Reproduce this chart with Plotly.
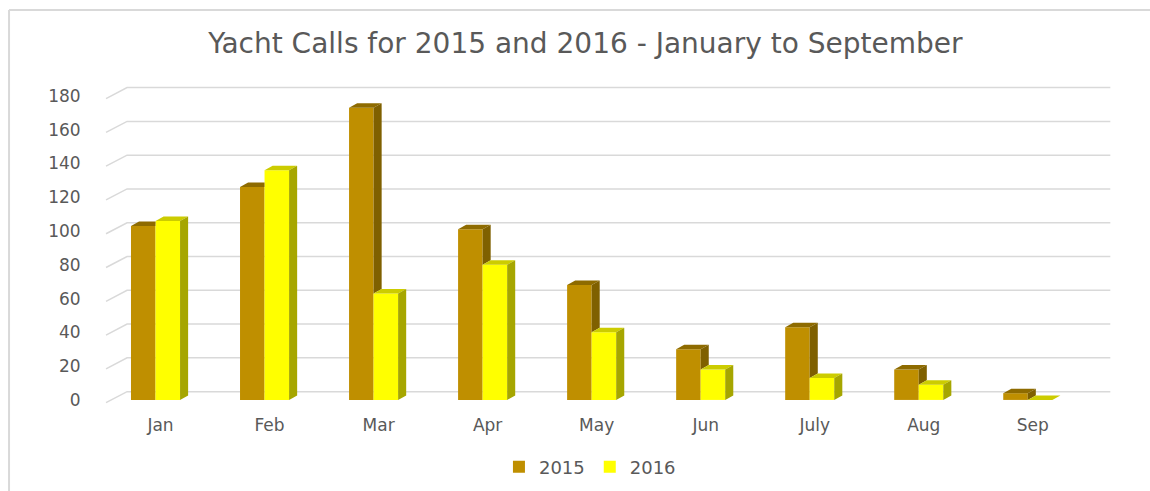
import plotly.graph_objects as go

# ---- data ----
months = ["Jan", "Feb", "Mar", "Apr", "May", "Jun", "July", "Aug", "Sep"]
calls_2015 = [103, 126, 173, 101, 68, 30, 43, 18, 4]
calls_2016 = [106, 136, 63, 80, 40, 18, 13, 9, 0]
y_ticks = [0, 20, 40, 60, 80, 100, 120, 140, 160, 180]
series_names = ["2015", "2016"]

# ---- style ----
FONT = "DejaVu Sans"
TXT = "#595959"
GRID = "#D9D9D9"
C15_FRONT, C15_TOP, C15_SIDE = "#BF8F00", "#8E6B00", "#7F6000"
C16_FRONT, C16_TOP, C16_SIDE = "#FFFF00", "#CCCC00", "#A6A600"
BAR_W = 0.225          # width of one bar (category units)
DEPTH_X = 0.074        # 3-D depth of bars, x (category units)
DEPTH_Y = 2.66         # 3-D depth of bars, y (value units)
GRID_DX = 0.193        # perspective offset of the back wall (category units)
GRID_DY = 6.5          # perspective offset of the back wall (value units)
GRID_FRONT = -1.6      # front edge of gridlines relative to value
X_RANGE = [-0.5, 8.80]
Y_RANGE = [-3, 190]

x = list(range(len(months)))

fig = go.Figure()
fig.add_trace(go.Bar(x=x, y=calls_2015, name=series_names[0], marker_color=C15_FRONT,
                     width=BAR_W, offset=-BAR_W, marker_line_width=0))
fig.add_trace(go.Bar(x=x, y=calls_2016, name=series_names[1], marker_color=C16_FRONT,
                     width=BAR_W, offset=0, marker_line_width=0))

shapes = []
# back-wall gridlines with perspective segment
x_front_left = X_RANGE[0] + 0.046
for v in y_ticks:
    yf = v + GRID_FRONT
    yb = yf + GRID_DY
    shapes.append(dict(type="path", xref="x", yref="y", layer="below",
                       path=f"M {x_front_left},{yf} L {x_front_left + GRID_DX},{yb} L {X_RANGE[1] - 0.043},{yb}",
                       line=dict(color=GRID, width=1.5)))


def poly(pts, color):
    d = "M " + " L ".join(f"{px},{py}" for px, py in pts) + " Z"
    return dict(type="path", xref="x", yref="y", layer="above", path=d,
                fillcolor=color, line=dict(width=0))


# 3-D faces of the 2015 bars (clipped where the 2016 bar hides them)
for i, (a, b) in enumerate(zip(calls_2015, calls_2016)):
    x0, x1 = i - BAR_W, i
    right = x1 + DEPTH_X if b <= a else x1
    shapes.append(poly([(x0, a), (x0 + DEPTH_X, a + DEPTH_Y), (right, a + DEPTH_Y), (min(right, x1), a)], C15_TOP))
    if a > b:
        shapes.append(poly([(x1, b), (x1, a), (x1 + DEPTH_X, a + DEPTH_Y), (x1 + DEPTH_X, b + DEPTH_Y)], C15_SIDE))
# 3-D faces of the 2016 bars
for i, b in enumerate(calls_2016):
    x0, x1 = i, i + BAR_W
    shapes.append(poly([(x0, b), (x0 + DEPTH_X, b + DEPTH_Y), (x1 + DEPTH_X, b + DEPTH_Y), (x1, b)], C16_TOP))
    if b > 0:
        shapes.append(poly([(x1, 0), (x1, b), (x1 + DEPTH_X, b + DEPTH_Y), (x1 + DEPTH_X, DEPTH_Y)], C16_SIDE))

# chart frame (left and top edges)
shapes.append(dict(type="line", xref="paper", yref="paper", x0=-0.0907, x1=-0.0907, y0=-0.4, y1=1.2117,
                   line=dict(color=GRID, width=2)))
shapes.append(dict(type="line", xref="paper", yref="paper", x0=-0.0907, x1=1.2, y0=1.2117, y1=1.2117,
                   line=dict(color=GRID, width=2)))

fig.update_layout(
    width=1150, height=491,
    margin=dict(l=101, r=35, t=79, b=86),
    paper_bgcolor="white", plot_bgcolor="white",
    font=dict(family=FONT, color=TXT, size=17),
    title=dict(text="Yacht Calls for 2015 and 2016 - January to September",
               x=0.509, xref="container", xanchor="center",
               y=0.912, yref="container", yanchor="middle",
               font=dict(family=FONT, size=28, color=TXT)),
    barmode="group",
    showlegend=True,
    legend=dict(orientation="h", x=0.513, xref="container", xanchor="center",
                y=0.049, yref="container", yanchor="middle",
                font=dict(size=18, color=TXT), itemwidth=30),
    shapes=shapes,
)
fig.update_xaxes(range=X_RANGE, tickvals=x, ticktext=months, showgrid=False, zeroline=False,
                 showline=False, ticks="outside", ticklen=5, tickcolor="rgba(0,0,0,0)",
                 tickfont=dict(size=17, color=TXT), ticklabelshift=5)
fig.update_yaxes(range=Y_RANGE, tickvals=y_ticks, showgrid=False, zeroline=False,
                 showline=False, ticks="outside", ticklen=16, tickcolor="rgba(0,0,0,0)",
                 tickfont=dict(size=17, color=TXT))

fig.write_html(
    "out.html",
    config={"displayModeBar": False},
    post_script="document.body.style.margin='0';document.body.style.overflow='hidden';",
)
